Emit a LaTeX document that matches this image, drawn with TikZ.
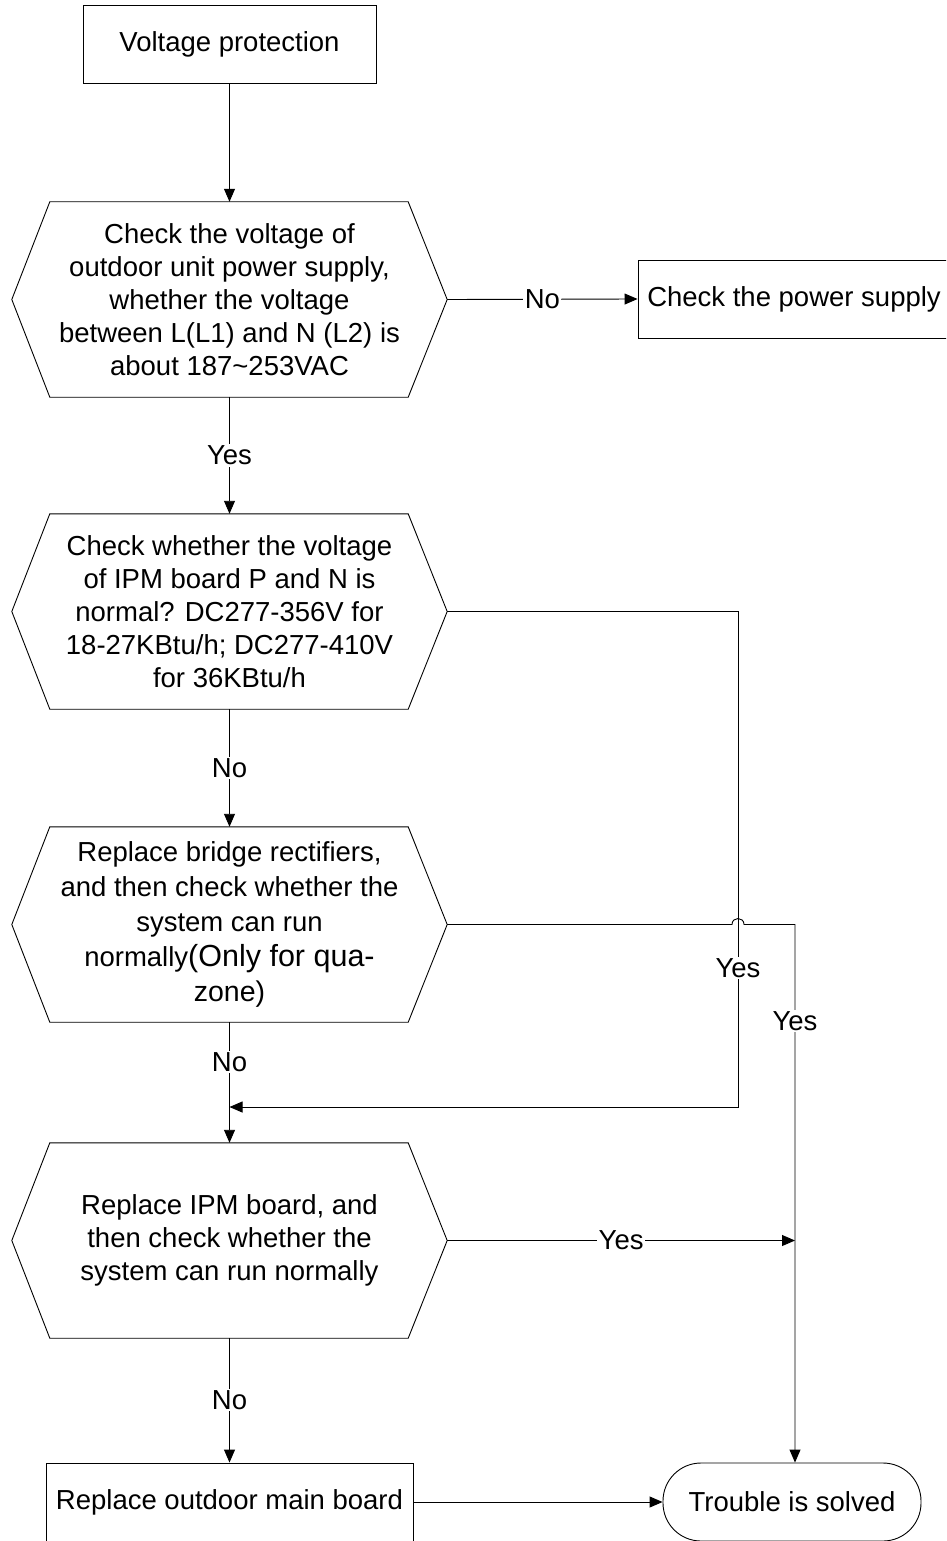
\documentclass[tikz,border=0pt]{standalone}
\usepackage{fontspec}
\setmainfont{Liberation Sans}
\usetikzlibrary{arrows.meta}
\newcommand{\drawhexa}[1]{%
  \draw[line] (#1.west) -- ([xshift=38pt]#1.north west) -- ([xshift=-39pt]#1.north east)
    -- (#1.east) -- ([xshift=-39pt]#1.south east) -- ([xshift=38pt]#1.south west) -- cycle;}
\newcommand{\biggerpart}[2]{{\fontsize{#1}{35}\selectfont #2}}
\begin{document}
\begin{tikzpicture}[x=1pt,y=-1pt,
  every node/.style={font=\fontsize{27.5}{33}\selectfont, inner sep=0pt},
  line/.style={line width=0.9pt, draw=black},
  arr/.style={line, -{Triangle[length=13pt,width=11pt]}},
  box/.style={line, minimum width=#1, minimum height=78pt, align=center},
  hexa/.style={minimum width=435pt, minimum height=195pt, align=center},
  lbl/.style={fill=white, inner sep=1.5pt},
]
\useasboundingbox (0,0) rectangle (946,1541);
\clip (0,0) rectangle (946,1541);

\node[box=293pt] (start) at (229.5,44.5) {Voltage protection};
\node[hexa] (h1) at (229.5,299.5)
  {Check the voltage of\\outdoor unit power supply,\\whether the voltage\\between L(L1) and N (L2) is\\about 187\textasciitilde 253VAC};
\node[box=312pt] (pw) at (794,299) {Check the power supply};
\node[hexa] (h2) at (229.5,611.5)
  {Check whether the voltage\\of IPM board P and N is\\normal? DC277-356V for\\18-27KBtu/h; DC277-410V\\for 36KBtu/h};
\node[hexa, font=\fontsize{27.5}{35}\selectfont] (h3) at (229.5,924.5)
  {Replace bridge rectifiers,\\and then check whether the\\system can run\\normally\biggerpart{30.5}{(Only for qua-}\\\biggerpart{28.5}{zone)}};
\node[hexa] (h4) at (229.5,1240.5)
  {Replace IPM board, and\\then check whether the\\system can run normally};
\node[box=367pt] (main) at (229.5,1502) {Replace outdoor main board};
\node[line, draw, rounded corners=38pt, minimum width=258pt, minimum height=78pt] (term) at (792,1502) {Trouble is solved};

\drawhexa{h1}
\drawhexa{h2}
\drawhexa{h3}
\drawhexa{h4}

\coordinate (m) at (229.5,1107);
\coordinate (ra) at (738,611.5);
\coordinate (rb) at (738,1107);
\coordinate (hopa) at (732,924.5);
\coordinate (hopb) at (744,924.5);
\coordinate (rc) at (795,924.5);
\coordinate (j) at (795,1240.5);

\draw[arr] (start) -- (h1);
\draw[arr] (h1.east) -- node[lbl] {No} (pw.west);
\draw[arr] (h1) -- node[lbl] {Yes} (h2);
\draw[arr] (h2) -- node[lbl] {No} (h3);
\draw[line] (h3.south) -- node[lbl, pos=0.47] {No} (m);
\draw[arr] (m) -- (h4.north);
\draw[arr] (h4) -- node[lbl] {No} (main);

\draw[arr] (h2.east) -- (ra) -- node[lbl, pos=0.72] {Yes} (rb) -- (m);
\draw[arr] (h3.east) -- (hopa) .. controls (732,916.5) and (744,916.5) .. (hopb) -- (rc)
  -- node[lbl, pos=0.18] {Yes} (rc |- term.north);
\draw[arr] (h4.east) -- node[lbl, pos=0.5] {Yes} (j);
\draw[arr] (main.east) -- (term.west);
\end{tikzpicture}
\end{document}
